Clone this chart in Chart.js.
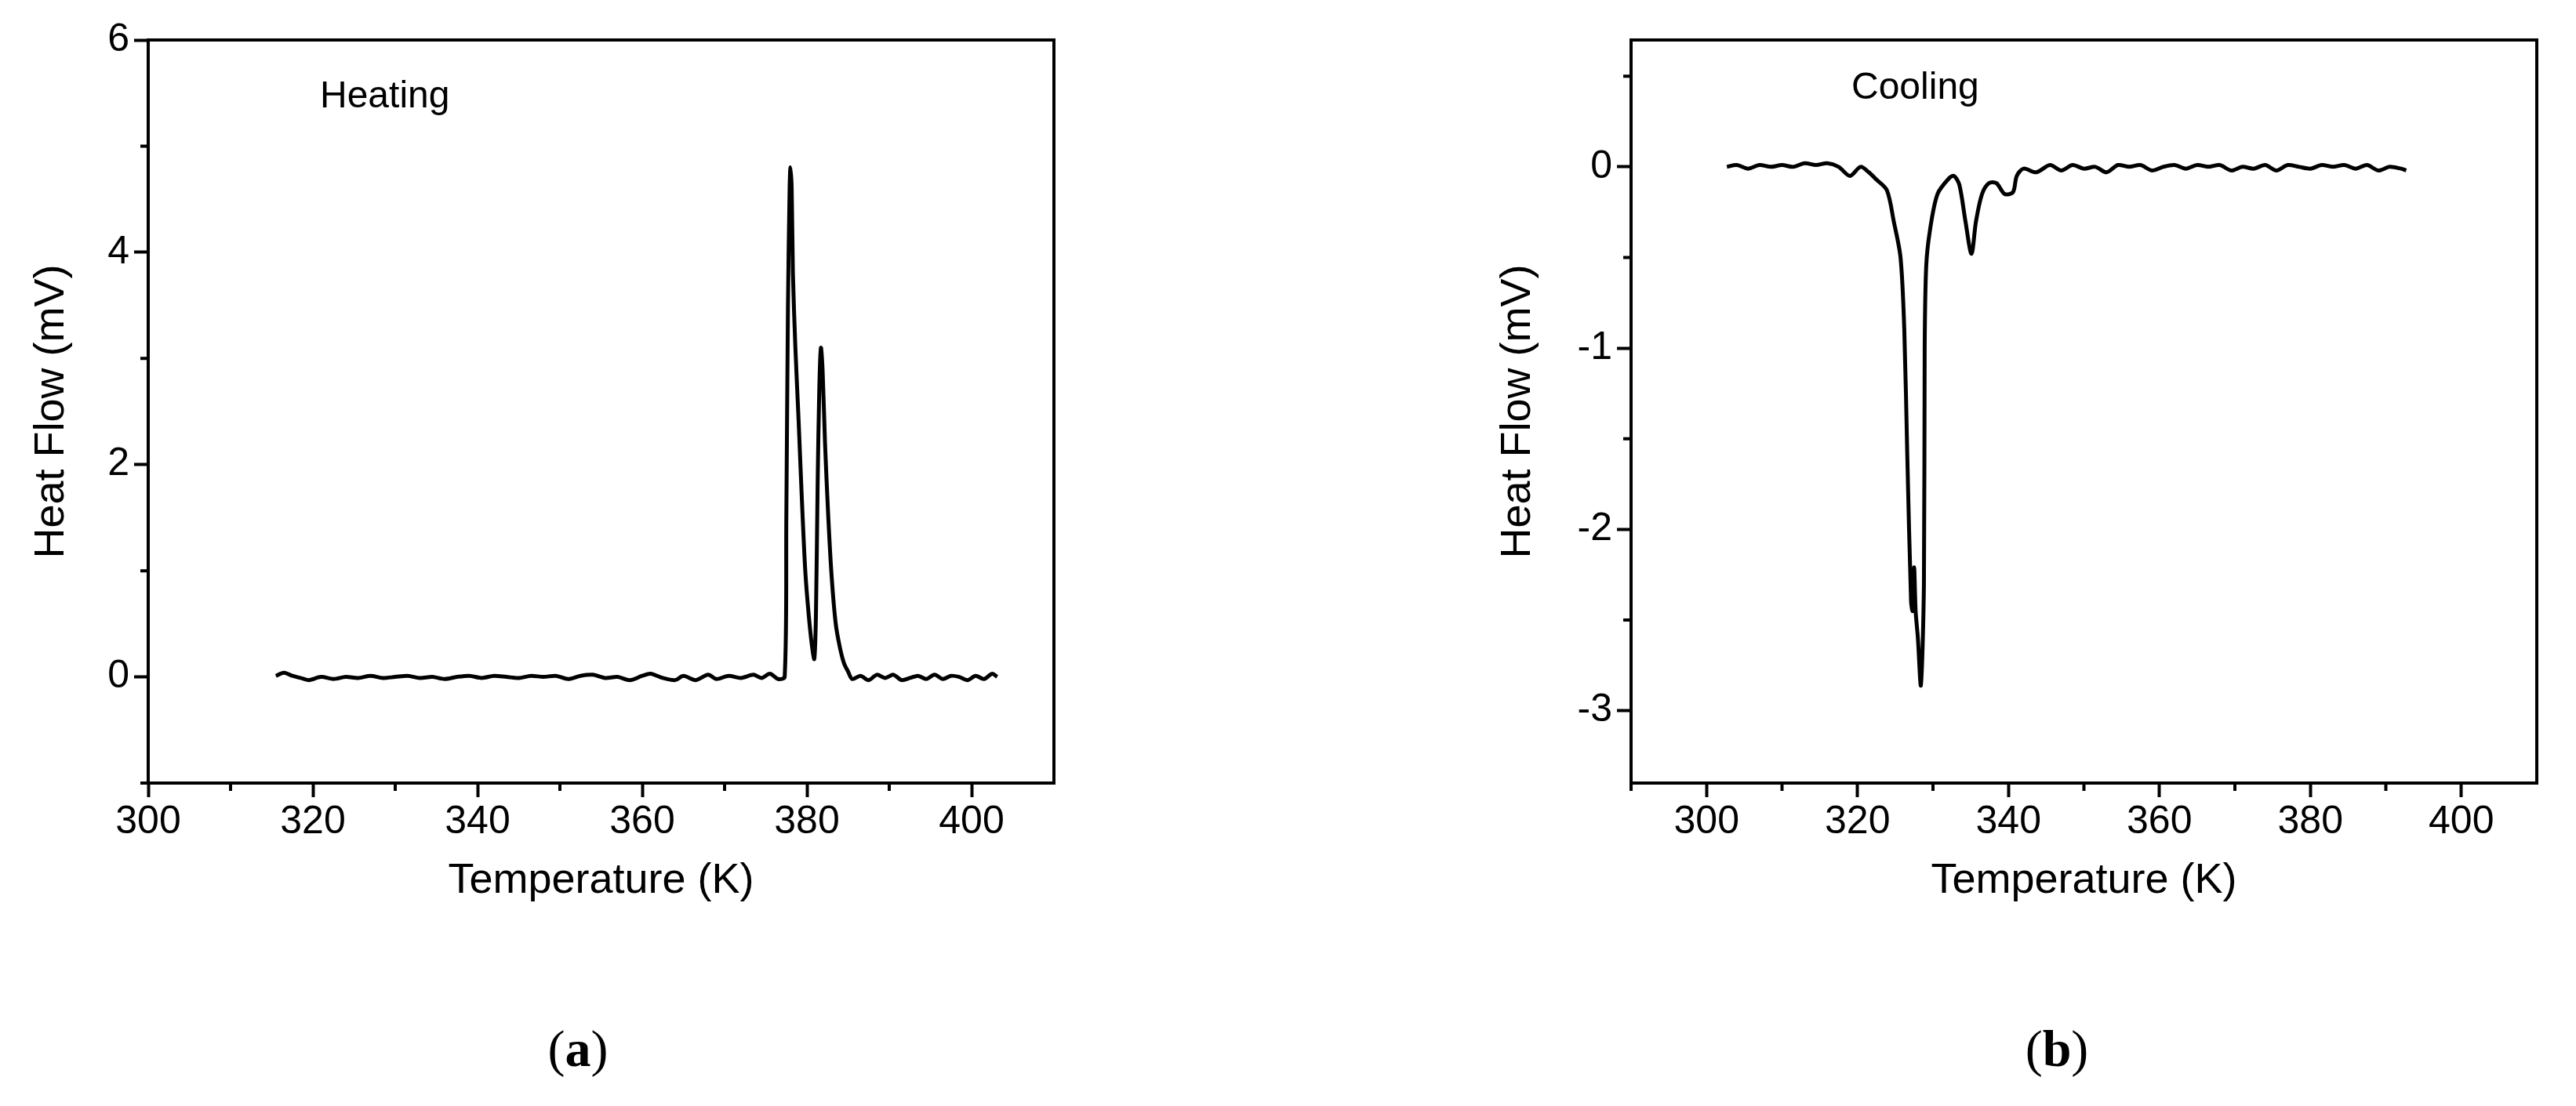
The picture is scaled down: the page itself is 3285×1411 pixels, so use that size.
<!DOCTYPE html>
<html>
  <head>
    <title>DSC Heating / Cooling</title>
    <script src="https://cdn.jsdelivr.net/npm/chart.js"></script>
    <style>
      body { margin: 0; background: white; width: 3285px; height: 1411px; position: relative; overflow: hidden; }
      canvas { position: absolute; top: 0; }
      #heatChart { left: 0; }
      #coolChart { left: 1850px; }
      .panel {
        position: absolute;
        top: 1300px;
        font-family: "Liberation Serif", serif;
        font-size: 66px;
        transform: translateX(-50%);
      }
    </style>
  </head>
  <body>
    <canvas id="heatChart" width="1400" height="1200"></canvas>
    <canvas id="coolChart" width="1435" height="1200"></canvas>
    <div class="panel" style="left: 737px">(<b>a</b>)</div>
    <div class="panel" style="left: 2623px">(<b>b</b>)</div>

    <script>
      // heating curve (K, mW)
      const heatT = [315.5, 316.5, 317.5, 318.5, 319.5, 321, 322.5, 324, 325.5, 327, 328.5, 330, 331.5, 333, 334.5,
        336, 337.5, 339, 340.5, 342, 343.5, 345, 346.5, 348, 349.5, 351, 352.5, 354, 355.5, 357, 358.5, 360, 361,
        362.5, 364, 365, 366.5, 368, 369, 370.5, 372, 373.5, 374.5, 375.5, 376.5, 377.3, 377.5, 377.7, 377.9,
        378.0, 378.15, 378.3, 378.6, 379.0, 379.4, 379.8, 380.2, 380.6, 380.9, 381.1, 381.3, 381.5, 381.7, 381.9,
        382.2, 382.6, 383.0, 383.5, 384.0, 384.5, 385.0, 385.5, 386.5, 387.5, 388.5, 389.5, 390.5, 391.5, 392.5,
        393.5, 394.5, 395.5, 396.5, 397.5, 398.5, 399.5, 400.5, 401.5, 402.5, 403.1];
      const heatQ = [0.01, 0.04, 0.01, -0.01, -0.03, 0.0, -0.02, 0.0, -0.01, 0.01, -0.01, 0.0, 0.01, -0.01, 0.0,
        -0.02, 0.0, 0.01, -0.01, 0.01, 0.0, -0.01, 0.01, 0.0, 0.01, -0.02, 0.01, 0.02, -0.01, 0.0, -0.03, 0.01, 0.03,
        -0.01, -0.03, 0.01, -0.03, 0.02, -0.02, 0.01, -0.01, 0.02, -0.01, 0.03, -0.02, 0.0, 1.5, 3.5, 4.6,
        4.8, 4.6, 3.8, 3.1, 2.4, 1.65, 1.0, 0.6, 0.3, 0.17, 0.6, 1.8, 2.7, 3.1, 2.9,
        2.2, 1.5, 0.95, 0.5, 0.28, 0.13, 0.05, -0.02, 0.01, -0.03, 0.02, -0.01, 0.02, -0.03, -0.01,
        0.01, -0.02, 0.02, -0.02, 0.01, 0.0, -0.03, 0.01, -0.02, 0.03, 0.0];

      // cooling curve (K, mW)
      const coolT = [302.7, 304, 305.5, 307, 308.5, 310, 311.5, 313, 314.5, 316, 317.5, 319, 320.4, 321.5, 322.5,
        323.9, 324.8, 325.7, 326.2, 326.6, 327.1, 327.3, 327.5, 327.7, 328.0, 328.4, 328.8, 328.9, 329.1, 329.6,
        330.6, 332.2, 332.8, 333.5, 334.3, 335.1, 335.7, 336.5, 337.4, 338.4, 339.5, 340.6, 341.1, 342.0, 343.7,
        345.5, 347, 348.5, 350, 351.5, 353, 354.5, 356, 357.5, 359, 360.5, 362, 363.5, 365, 366.5, 368, 369.5,
        371, 372.5, 374, 375.5, 377, 378.5, 380, 381.5, 383, 384.5, 386, 387.5, 389, 390.5, 392, 392.7];
      const coolQ = [0.0, 0.01, -0.01, 0.01, 0.0, 0.01, 0.0, 0.02, 0.01, 0.02, 0.0, -0.05, 0.0, -0.03, -0.07,
        -0.13, -0.3, -0.5, -0.9, -1.6, -2.4, -2.45, -2.21, -2.45, -2.6, -2.86, -2.3, -1.0, -0.55, -0.35,
        -0.15, -0.06, -0.05, -0.1, -0.3, -0.48, -0.3, -0.15, -0.09, -0.09, -0.15, -0.14, -0.05, -0.01, -0.03,
        0.01, -0.02, 0.01, -0.01, 0.0, -0.03, 0.01, 0.0, 0.01, -0.02, 0.0, 0.01, -0.01, 0.01, 0.0, 0.01, -0.02,
        0.0, -0.01, 0.01, -0.02, 0.01, 0.0, -0.01, 0.01, 0.0, 0.01, -0.01, 0.01, -0.02, 0.0, -0.01, -0.02];

      const heatXTicks = [300, 320, 340, 360, 380, 400];
      const heatYTicks = [0, 2, 4, 6];
      const heatXMinor = [310, 330, 350, 370, 390];
      const heatYMinor = [-1, 1, 3, 5];
      const coolXTicks = [300, 320, 340, 360, 380, 400];
      const coolYTicks = [-3, -2, -1, 0];
      const coolXMinor = [290, 310, 330, 350, 370, 390];
      const coolYMinor = [-2.5, -1.5, -0.5, 0.5];

      const sans = "'Liberation Sans', Arial, sans-serif";

      // box frame, minor ticks and the note text
      const framePlugin = {
        id: "frame",
        afterDraw(chart, args, opts) {
          const { ctx, chartArea: a, scales } = chart;
          ctx.save();
          ctx.strokeStyle = "#000";
          ctx.lineWidth = 4;
          ctx.strokeRect(a.left, a.top, a.right - a.left, a.bottom - a.top);
          ctx.lineWidth = 4;
          ctx.beginPath();
          opts.xMinor.forEach((v) => {
            const px = scales.x.getPixelForValue(v);
            ctx.moveTo(px, a.bottom);
            ctx.lineTo(px, a.bottom + 10);
          });
          opts.yMinor.forEach((v) => {
            const py = scales.y.getPixelForValue(v);
            ctx.moveTo(a.left, py);
            ctx.lineTo(a.left - 10, py);
          });
          ctx.stroke();
          ctx.fillStyle = "#000";
          ctx.font = "48px " + sans;
          ctx.textBaseline = "middle";
          ctx.fillText(opts.note, opts.noteX, opts.noteY);
          ctx.restore();
        },
      };

      function makeChart(id, xs, ys, cfg) {
        const pts = xs.map((x, i) => ({ x: x, y: ys[i] }));
        return new Chart(document.getElementById(id), {
          type: "line",
          data: { datasets: [{ data: pts, borderColor: "#000", borderWidth: 5, pointRadius: 0, tension: 0.3 }] },
          options: {
            responsive: false,
            animation: false,
            devicePixelRatio: 1,
            layout: { padding: { top: 51, right: cfg.padRight, left: cfg.padLeft, bottom: 39 } },
            plugins: {
              legend: { display: false },
              tooltip: { enabled: false },
              frame: { xMinor: cfg.xMinor, yMinor: cfg.yMinor, note: cfg.note, noteX: cfg.noteX, noteY: cfg.noteY },
            },
            scales: {
              x: {
                type: "linear",
                min: cfg.xMin,
                max: cfg.xMax,
                afterBuildTicks: (s) => { s.ticks = cfg.xTicks.map((v) => ({ value: v })); },
                afterFit: (s) => { s.height = 162; },
                grid: { drawOnChartArea: false, tickLength: 18, tickWidth: 4, tickColor: "#000" },
                border: { display: false },
                ticks: { color: "#000", font: { family: sans, size: 50 }, padding: 2, maxRotation: 0 },
                title: { display: true, text: "Temperature (K)", color: "#000", font: { family: sans, size: 54 }, padding: 4 },
              },
              y: {
                min: cfg.yMin,
                max: cfg.yMax,
                afterBuildTicks: (s) => { s.ticks = cfg.yTicks.map((v) => ({ value: v })); },
                afterFit: (s) => { s.width = cfg.yWidth; },
                grid: { drawOnChartArea: false, tickLength: 18, tickWidth: 4, tickColor: "#000" },
                border: { display: false },
                ticks: { color: "#000", font: { family: sans, size: 50 }, padding: 6 },
                title: { display: true, text: "Heat Flow (mV)", color: "#000", font: { family: sans, size: 54 }, padding: 4 },
              },
            },
          },
          plugins: [framePlugin],
        });
      }

      makeChart("heatChart", heatT, heatQ, {
        xMin: 300, xMax: 410, yMin: -1, yMax: 6,
        xTicks: heatXTicks, yTicks: heatYTicks, xMinor: heatXMinor, yMinor: heatYMinor,
        padLeft: 30, yWidth: 159, padRight: 56,
        note: "Heating", noteX: 408, noteY: 124,
      });

      makeChart("coolChart", coolT, coolQ, {
        xMin: 290, xMax: 410, yMin: -3.4, yMax: 0.7,
        xTicks: coolXTicks, yTicks: coolYTicks, xMinor: coolXMinor, yMinor: coolYMinor,
        padLeft: 50, yWidth: 180, padRight: 50,
        note: "Cooling", noteX: 511, noteY: 113,
      });
    </script>
  </body>
</html>
